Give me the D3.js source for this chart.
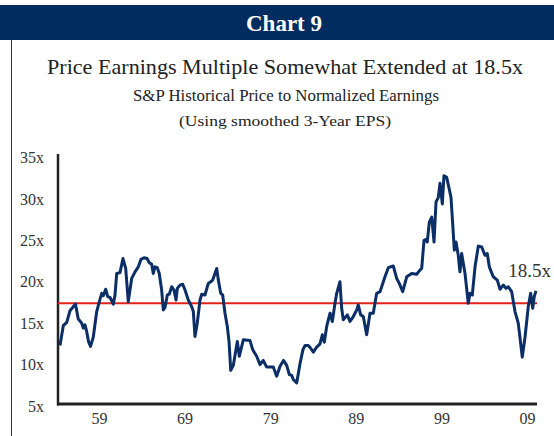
<!DOCTYPE html>
<html>
<head>
<meta charset="utf-8">
<script src="https://cdn.jsdelivr.net/npm/d3@7"></script>
<style>
	body { margin: 0; background: #fff; }
	svg { display: block; }
	text { font-family: 'Liberation Serif', 'DejaVu Serif', serif; }
</style>
</head>
<body>
<div id="main-content"></div>
<script>
'use strict'

// decimal year and P/E multiple
const years = [
	1954.44, 1954.83, 1955.23, 1955.61, 1956.00, 1956.25, 1956.58, 1956.98, 1957.17, 1957.36,
	1957.56, 1957.77, 1958.01, 1958.33, 1958.73, 1959.12, 1959.32, 1959.50, 1959.78, 1960.02,
	1960.29, 1960.67, 1960.87, 1961.07, 1961.45, 1961.80, 1962.12, 1962.42, 1962.82, 1963.21,
	1963.59, 1963.91, 1964.26, 1964.61, 1964.88, 1965.16, 1965.34, 1965.54, 1965.81, 1966.04,
	1966.32, 1966.51, 1966.71, 1966.98, 1967.21, 1967.49, 1967.76, 1968.00, 1968.15, 1968.46,
	1968.78, 1969.05, 1969.43, 1969.83, 1970.02, 1970.21, 1970.48, 1970.80, 1971.00, 1971.38,
	1971.77, 1972.05, 1972.28, 1972.55, 1972.75, 1972.94, 1973.22, 1973.45, 1973.72, 1973.99,
	1974.19, 1974.39, 1974.69, 1975.16, 1975.39, 1975.86, 1976.64, 1976.96, 1977.42, 1977.81,
	1978.19, 1978.59, 1979.36, 1979.76, 1980.15, 1980.55, 1980.93, 1981.23, 1981.51, 1981.70,
	1982.10, 1982.48, 1982.83, 1983.07, 1983.45, 1983.71, 1984.04, 1984.43, 1984.82, 1985.09,
	1985.32, 1985.60, 1985.99, 1986.26, 1986.57, 1986.77, 1987.15, 1987.35, 1987.54, 1988.01,
	1988.32, 1988.71, 1989.11, 1989.29, 1989.57, 1989.88, 1990.27, 1990.66, 1991.04, 1991.44,
	1991.83, 1992.41, 1992.80, 1993.38, 1993.78, 1994.08, 1994.48, 1994.95, 1995.53, 1996.11,
	1996.50, 1996.70, 1996.97, 1997.20, 1997.35, 1997.59, 1997.87, 1998.14, 1998.37, 1998.64,
	1998.84, 1999.11, 1999.30, 1999.62, 2000.12, 2000.32, 2000.51, 2000.71, 2000.97, 2001.17,
	2001.37, 2001.76, 2002.14, 2002.34, 2002.61, 2002.93, 2003.31, 2003.71, 2004.09, 2004.36,
	2004.60, 2005.06, 2005.53, 2005.85, 2006.23, 2006.55, 2006.82, 2007.21, 2007.60, 2007.98,
	2008.45, 2008.77, 2009.15, 2009.43, 2009.67, 2009.85, 2010.05
]
const peValues = [
	12.3, 14.7, 15.1, 16.5, 17.0, 17.3, 15.5, 15.0, 14.4, 14.8,
	14.0, 12.8, 12.2, 13.3, 16.4, 17.9, 18.6, 18.3, 19.1, 18.2,
	18.1, 17.3, 18.4, 21.0, 21.1, 22.8, 21.6, 17.6, 20.4, 21.2,
	21.8, 22.7, 22.9, 22.8, 22.3, 22.1, 21.0, 21.8, 21.7, 21.0,
	19.0, 16.6, 16.9, 18.4, 18.5, 19.4, 19.0, 17.8, 19.2, 19.6,
	19.7, 19.0, 17.8, 17.0, 16.4, 13.4, 15.0, 17.8, 18.5, 18.4,
	19.8, 20.0, 20.2, 21.0, 21.6, 20.2, 18.6, 18.4, 16.2, 14.6,
	12.8, 9.3, 9.9, 12.8, 11.0, 13.0, 12.9, 11.8, 11.0, 10.0,
	10.5, 9.7, 9.7, 8.6, 9.8, 10.5, 9.9, 8.8, 8.7, 8.2,
	7.8, 10.1, 11.8, 12.3, 12.3, 12.0, 11.5, 12.1, 12.5, 13.6,
	12.7, 14.6, 16.2, 15.2, 17.4, 18.6, 20.0, 16.8, 15.4, 16.0,
	15.2, 15.8, 16.6, 17.2, 16.0, 15.8, 13.6, 16.2, 16.2, 18.6,
	18.8, 20.6, 21.7, 21.9, 20.4, 19.8, 18.8, 20.6, 21.0, 20.9,
	21.4, 21.6, 25.0, 25.1, 24.8, 27.2, 27.8, 24.8, 29.6, 30.2,
	31.9, 29.4, 32.8, 32.6, 30.2, 27.0, 23.8, 24.8, 23.2, 21.2,
	23.4, 21.0, 17.4, 18.6, 18.4, 21.8, 24.3, 24.2, 23.2, 23.4,
	21.8, 20.6, 20.2, 19.1, 19.6, 19.2, 19.4, 18.8, 16.4, 15.0,
	10.9, 13.3, 17.0, 18.6, 16.8, 18.2, 18.9
]
const averagePE = 17.4
const yTicks = [5, 10, 15, 20, 25, 30, 35]
const xTicks = [1959, 1969, 1979, 1989, 1999, 2009]
const currentLabel = { year: 2006.8, value: 20.6, text: '18.5x' }

const width = 554,
		height = 436

const navy = '#002c60'

const svg = d3.select('#main-content').append('svg')
	.attr('width', width)
	.attr('height', height)

// header band + frame
svg.append('rect')
	.attr('x', 0).attr('y', 5)
	.attr('width', width).attr('height', 35)
	.attr('fill', navy)

svg.append('line')
	.attr('x1', 11.5).attr('x2', 11.5)
	.attr('y1', 40).attr('y2', height)
	.attr('stroke', '#333')
	.attr('stroke-width', 1)

svg.append('text')
	.attr('x', 284).attr('y', 31)
	.attr('text-anchor', 'middle')
	.attr('fill', '#fff')
	.attr('font-size', 23)
	.attr('font-weight', 'bold')
	.text('Chart 9')

svg.append('text')
	.attr('x', 285).attr('y', 74)
	.attr('text-anchor', 'middle')
	.attr('fill', '#222')
	.attr('font-size', 22)
	.attr('textLength', 476)
	.attr('lengthAdjust', 'spacingAndGlyphs')
	.text('Price Earnings Multiple Somewhat Extended at 18.5x')

svg.append('text')
	.attr('x', 286).attr('y', 101)
	.attr('text-anchor', 'middle')
	.attr('fill', '#222')
	.attr('font-size', 17)
	.attr('textLength', 306)
	.attr('lengthAdjust', 'spacingAndGlyphs')
	.text('S&P Historical Price to Normalized Earnings')

svg.append('text')
	.attr('x', 285).attr('y', 126)
	.attr('text-anchor', 'middle')
	.attr('fill', '#222')
	.attr('font-size', 15)
	.attr('textLength', 212)
	.attr('lengthAdjust', 'spacingAndGlyphs')
	.text('(Using smoothed 3-Year EPS)')

// scales
const x = d3.scaleLinear()
	.domain([1954.21, 2010.17])
	.range([58, 537])

const y = d3.scaleLinear()
	.domain([5, 35])
	.range([406, 157.5])

const plotTop = 154,
		plotBottom = 404

svg.append('g')
	.attr('transform', 'translate(44,0)')
	.call(d3.axisLeft(y).tickValues(yTicks).tickSize(0).tickPadding(0).tickFormat(d => d + 'x'))
	.call(g => g.select('.domain').remove())
	.call(g => g.selectAll('text')
		.attr('font-family', "'Liberation Serif', serif")
		.attr('font-size', 16)
		.attr('fill', '#333'))

svg.append('g')
	.attr('transform', 'translate(0,' + plotBottom + ')')
	.call(d3.axisBottom(x).tickValues(xTicks).tickSize(0).tickPadding(9).tickFormat(d => String(d).slice(2)))
	.call(g => g.select('.domain').remove())
	.call(g => g.selectAll('text')
		.attr('font-family', "'Liberation Serif', serif")
		.attr('font-size', 16)
		.attr('fill', '#333'))

// axis lines
svg.append('line')
	.attr('x1', 58).attr('x2', 58)
	.attr('y1', plotTop).attr('y2', plotBottom + 1.5)
	.attr('stroke', '#222')
	.attr('stroke-width', 2.5)

svg.append('line')
	.attr('x1', 57).attr('x2', 537)
	.attr('y1', plotBottom).attr('y2', plotBottom)
	.attr('stroke', '#222')
	.attr('stroke-width', 3)

// average line
svg.append('line')
	.attr('x1', 58).attr('x2', 537)
	.attr('y1', y(averagePE)).attr('y2', y(averagePE))
	.attr('stroke', '#e2231a')
	.attr('stroke-width', 2)

const line = d3.line()
	.x((d, i) => x(years[i]))
	.y(d => y(d))

svg.append('path')
	.datum(peValues)
	.attr('fill', 'none')
	.attr('stroke', '#0b2e66')
	.attr('stroke-width', 3)
	.attr('stroke-linejoin', 'round')
	.attr('d', line)

svg.append('text')
	.attr('x', x(currentLabel.year))
	.attr('y', y(currentLabel.value))
	.attr('fill', '#333')
	.attr('font-size', 19)
	.text(currentLabel.text)
</script>
</body>
</html>
